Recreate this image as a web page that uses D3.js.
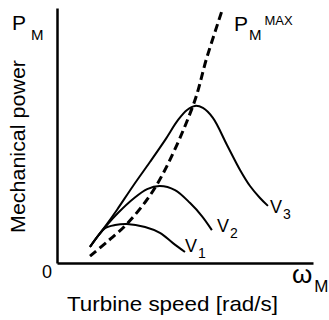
<html>

<head>
  <title>Turbine power curves</title>
  <script src="https://d3js.org/d3.v7.min.js"></script>

  <style>
    body {
      margin: 0;
      background: #fff;
    }

    text {
      font-family: "Liberation Sans", Arial, sans-serif;
      fill: #000;
    }

    .curve {
      fill: none;
      stroke: #000;
      stroke-width: 2px;
    }

    .maxline {
      fill: none;
      stroke: #000;
      stroke-width: 3px;
      stroke-dasharray: 8 4.5;
    }

    .axis path {
      stroke: #000;
      stroke-width: 2.5px;
    }
  </style>
</head>

<body>
  <svg id="chart" width="329" height="320"></svg>

  <script>
    // values (arbitrary units, 0..10 on both axes)
    const speedV1 = [1.29, 1.60, 1.88, 2.27, 2.73, 3.44, 4.02, 4.53, 5.00];
    const powerV1 = [0.63, 1.06, 1.37, 1.49, 1.53, 1.41, 1.18, 0.78, 0.43];

    const speedV2 = [1.29, 1.60, 1.95, 2.38, 2.97, 3.52, 4.02, 4.61, 5.20, 5.66, 6.05];
    const powerV2 = [0.63, 1.06, 1.49, 1.96, 2.51, 2.90, 3.02, 2.86, 2.35, 1.84, 1.29];

    const speedV3 = [1.29, 1.60, 1.95, 2.34, 2.97, 3.63, 4.22, 4.73, 5.08, 5.39, 5.70, 6.09, 6.64, 7.15, 7.54, 7.93, 8.24];
    const powerV3 = [0.63, 1.06, 1.53, 2.08, 3.02, 3.96, 4.82, 5.61, 6.00, 6.16, 6.08, 5.69, 4.63, 3.65, 3.02, 2.55, 2.24];

    // locus of maximum power (dashed)
    const speedMax = [1.29, 1.99, 2.73, 3.87, 5.31, 5.86, 6.48];
    const powerMax = [0.27, 0.86, 1.53, 3.02, 6.16, 8.08, 10.0];

    const seriesNames = ["1", "2", "3"];

    const svg = d3.select("#chart");
    const x = d3.scaleLinear().domain([0, 10]).range([57, 313]);
    const y = d3.scaleLinear().domain([0, 10]).range([263, 8]);

    const zip = (xs, ys) => xs.map((v, i) => [v, ys[i]]);

    const line = d3.line()
      .x(d => x(d[0]))
      .y(d => y(d[1]))
      .curve(d3.curveCatmullRom.alpha(0.5));

    // axes: plain lines, no ticks
    svg.append("g")
      .attr("class", "axis")
      .attr("transform", "translate(0," + y(0) + ")")
      .call(d3.axisBottom(x).tickValues([]).tickSizeOuter(0));

    svg.append("g")
      .attr("class", "axis")
      .attr("transform", "translate(" + x(0) + ",0)")
      .call(d3.axisLeft(y).tickValues([]).tickSizeOuter(0));

    const curves = [zip(speedV1, powerV1), zip(speedV2, powerV2), zip(speedV3, powerV3)];

    svg.selectAll("path.curve").data(curves)
      .join("path")
      .attr("class", "curve")
      .attr("d", line);

    svg.append("path")
      .attr("class", "maxline")
      .attr("d", line(zip(speedMax, powerMax)));

    // V labels at the end of each curve
    const labelOffsets = [[0, 0], [5, 2], [2, 7]];
    curves.forEach((c, i) => {
      const end = c[c.length - 1];
      const t = svg.append("text")
        .attr("x", x(end[0]) + labelOffsets[i][0])
        .attr("y", y(end[1]) + labelOffsets[i][1])
        .style("font-size", "18px");
      t.append("tspan").text("V");
      t.append("tspan").attr("dy", 6).attr("dx", 1).style("font-size", "14px").text(seriesNames[i]);
    });

    // axis labels
    const pm = svg.append("text").attr("x", 12).attr("y", 30).style("font-size", "21px");
    pm.append("tspan").text("P");
    pm.append("tspan").attr("dx", 5).attr("dy", 10).style("font-size", "15px").text("M");

    const pmax = svg.append("text").attr("x", 234).attr("y", 31).style("font-size", "21px");
    pmax.append("tspan").text("P");
    pmax.append("tspan").attr("dx", 1).attr("dy", 9).style("font-size", "15px").text("M");
    pmax.append("tspan").attr("dx", 3).attr("dy", -15).style("font-size", "13px").text("MAX");

    svg.append("text")
      .attr("x", 42).attr("y", 278)
      .style("font-size", "18px")
      .text("0");

    const om = svg.append("text").attr("x", 292).attr("y", 283).style("font-size", "26px");
    om.append("tspan").text("ω");
    om.append("tspan").attr("dx", 2).attr("dy", 9).style("font-size", "17px").text("M");

    svg.append("text")
      .attr("x", 67).attr("y", 311)
      .attr("textLength", 211)
      .attr("lengthAdjust", "spacingAndGlyphs")
      .style("font-size", "21px")
      .text("Turbine speed [rad/s]");

    svg.append("text")
      .attr("transform", "translate(25,146.5) rotate(-90)")
      .attr("text-anchor", "middle")
      .attr("textLength", 173)
      .attr("lengthAdjust", "spacingAndGlyphs")
      .style("font-size", "21px")
      .text("Mechanical power");
  </script>
</body>

</html>
